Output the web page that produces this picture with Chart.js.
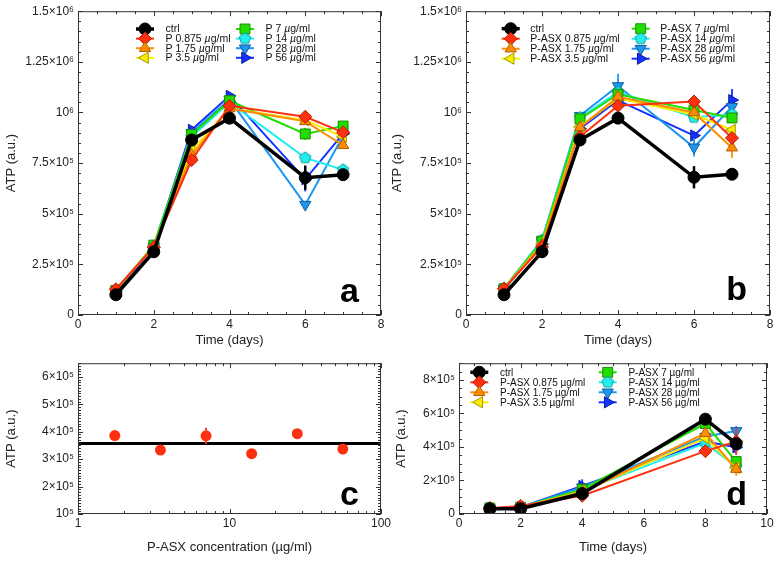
<!DOCTYPE html>
<html>
<head>
<meta charset="utf-8">
<script src="https://cdn.jsdelivr.net/npm/chart.js@4.4.1/dist/chart.umd.min.js"></script>
<style>
  html, body { margin: 0; padding: 0; background: #fff; }
  #wrap { position: relative; width: 779px; height: 562px; overflow: hidden; }
  canvas { position: absolute; }
</style>
</head>
<body>
<div id="wrap">
  <canvas id="chartA" width="390" height="352" style="left:0;top:0"></canvas>
  <canvas id="chartB" width="389" height="352" style="left:390px;top:0"></canvas>
  <canvas id="chartC" width="400" height="210" style="left:0;top:352px"></canvas>
  <canvas id="chartD" width="389" height="210" style="left:390px;top:352px"></canvas>
</div>
<script>
const FONT = "'Liberation Sans', Arial, Helvetica, sans-serif";
Chart.defaults.font.family = FONT;
Chart.defaults.color = '#222';

// ---- data ----
const daysAB = [1, 2, 3, 4, 6, 7];
const daysD = [1, 2, 4, 8, 9];

const aLabels = ['ctrl', 'P 0.875 µg/ml', 'P 1.75 µg/ml', 'P 3.5 µg/ml', 'P 7 µg/ml', 'P 14 µg/ml', 'P 28 µg/ml', 'P 56 µg/ml'];
const bLabels = ['ctrl', 'P-ASX 0.875 µg/ml', 'P-ASX 1.75 µg/ml', 'P-ASX 3.5 µg/ml', 'P-ASX 7 µg/ml', 'P-ASX 14 µg/ml', 'P-ASX 28 µg/ml', 'P-ASX 56 µg/ml'];

// panel a (P)
const aCtrl  = [1.0e5, 3.12e5, 8.64e5, 9.72e5, 6.78e5, 6.93e5];
const aP0875 = [1.27e5, 3.35e5, 7.65e5, 1.033e6, 9.79e5, 9.02e5];
const aP175  = [1.25e5, 3.38e5, 7.9e5, 1.02e6, 9.56e5, 8.38e5];
const aP35   = [1.25e5, 3.38e5, 8.12e5, 1.02e6, 9.62e5, 8.8e5];
const aP7    = [1.22e5, 3.45e5, 8.9e5, 1.058e6, 8.94e5, 9.33e5];
const aP14   = [1.22e5, 3.42e5, 8.8e5, 1.05e6, 7.76e5, 7.17e5];
const aP28   = [1.2e5, 3.4e5, 9.0e5, 1.065e6, 5.45e5, 8.85e5];
const aP56   = [1.15e5, 3.35e5, 9.14e5, 1.082e6, 6.7e5, 8.95e5];
const aCtrlErr = [0, 0, 0, 0, 6e4, 0];
const aP7Err   = [0, 0, 0, 0, 3e4, 0];
const aP56Err  = [0, 0, 0, 0, 6e4, 0];

// panel b (P-ASX)
const bCtrl  = [1.0e5, 3.12e5, 8.64e5, 9.72e5, 6.8e5, 6.95e5];
const bP0875 = [1.3e5, 3.37e5, 8.8e5, 1.033e6, 1.054e6, 8.74e5];
const bP175  = [1.3e5, 3.45e5, 9.26e5, 1.077e6, 1.0e6, 8.26e5];
const bP35   = [1.3e5, 3.5e5, 9.3e5, 1.07e6, 9.9e5, 9.14e5];
const bP7    = [1.3e5, 3.65e5, 9.68e5, 1.09e6, 1.012e6, 9.73e5];
const bP14   = [1.32e5, 3.7e5, 9.75e5, 1.1e6, 9.76e5, 9.9e5];
const bP28   = [1.3e5, 3.7e5, 9.84e5, 1.131e6, 8.28e5, 1.028e6];
const bP56   = [1.25e5, 3.5e5, 9.2e5, 1.06e6, 8.86e5, 1.061e6];
const bCtrlErr = [0, 0, 0, 2.5e4, 5.5e4, 0];
const bP175Err = [0, 0, 0, 0, 0, 5e4];
const bP28Err  = [0, 0, 0, 6e4, 4.5e4, 0];
const bP56Err  = [0, 0, 0, 0, 2e4, 5.5e4];

// panel c (dose response)
const cConc = [1.75, 3.5, 7, 14, 28, 56];
const cAtp  = [3.86e5, 3.33e5, 3.85e5, 3.2e5, 3.93e5, 3.37e5];
const cErr  = [0, 0, 3e4, 0, 0, 0];
const cCtrlLevel = 3.57e5;
const cLineX = [1, 100];

// panel d (P-ASX, second run)
const dCtrl  = [3.1e4, 3.1e4, 1.22e5, 5.66e5, 4.2e5];
const dP0875 = [3.5e4, 4.8e4, 1.09e5, 3.75e5, 4.33e5];
const dP175  = [3.5e4, 4.2e4, 1.3e5, 4.82e5, 2.68e5];
const dP35   = [3.5e4, 4.0e4, 1.35e5, 4.53e5, 2.75e5];
const dP7    = [3.5e4, 4.0e4, 1.47e5, 5.4e5, 3.13e5];
const dP14   = [3.5e4, 4.0e4, 1.4e5, 4.23e5, 2.82e5];
const dP28   = [3.5e4, 4.0e4, 1.6e5, 4.62e5, 4.96e5];
const dP56   = [3.5e4, 4.0e4, 1.67e5, 4.33e5, 3.98e5];
const dP0875Err = [0, 0, 0, 0, 8e4];
const dP175Err  = [0, 0, 0, 0, 4e4];
const dP28Err   = [0, 0, 0, 0, 3e4];
const dP56Err   = [0, 0, 4e4, 0, 4e4];

// ticks
const abXTicks = [0, 2, 4, 6, 8];
const abXLabels = ['0', '2', '4', '6', '8'];
const abYTicks = [0, 2.5e5, 5e5, 7.5e5, 1e6, 1.25e6, 1.5e6];
const abYLabels = ['0', '2.5×10⁵', '5×10⁵', '7.5×10⁵', '10⁶', '1.25×10⁶', '1.5×10⁶'];
const cXTicks = [1, 10, 100];
const cXLabels = ['1', '10', '100'];
const cYTicks = [1e5, 2e5, 3e5, 4e5, 5e5, 6e5];
const cYLabels = ['10⁵', '2×10⁵', '3×10⁵', '4×10⁵', '5×10⁵', '6×10⁵'];
const dXTicks = [0, 2, 4, 6, 8, 10];
const dXLabels = ['0', '2', '4', '6', '8', '10'];
const dYTicks = [0, 2e5, 4e5, 6e5, 8e5];
const dYLabels = ['0', '2×10⁵', '4×10⁵', '6×10⁵', '8×10⁵'];

// ---- marker looks ----
const looks = [
  { color: '#000000', edge: '#000000', shape: 'circle',   rot: 0,   r: 6,   w: 3.5 },
  { color: '#ff3010', edge: '#b02000', shape: 'rectRot',  rot: 0,   r: 6.5, w: 2 },
  { color: '#ff8c00', edge: '#b06000', shape: 'triangle', rot: 0,   r: 6.5, w: 2 },
  { color: '#f8ec00', edge: '#a09800', shape: 'triangle', rot: -90, r: 6.5, w: 2 },
  { color: '#22dd00', edge: '#168f00', shape: 'rect',     rot: 0,   r: 7,   w: 2 },
  { color: '#22eeee', edge: '#139a9a', shape: 'pentagon', rot: 0,   r: 6,   w: 2 },
  { color: '#1e96f0', edge: '#115f9c', shape: 'triangle', rot: 180, r: 6.5, w: 2 },
  { color: '#1432ff', edge: '#0b1c99', shape: 'triangle', rot: 90,  r: 6.5, w: 2 }
];

function pentagon(fill, edge, r) {
  const c = document.createElement('canvas');
  const s = Math.ceil(r * 2 + 2);
  c.width = s; c.height = s;
  const g = c.getContext('2d');
  g.beginPath();
  for (let k = 0; k < 5; k++) {
    const t = -Math.PI / 2 + k * 2 * Math.PI / 5;
    g.lineTo(s / 2 + r * Math.cos(t), s / 2 + r * Math.sin(t));
  }
  g.closePath();
  g.fillStyle = fill; g.fill();
  g.strokeStyle = edge; g.lineWidth = 1; g.stroke();
  return c;
}

function lineSets(days, rows, errs, labels) {
  return rows.map((vals, i) => {
    const lk = looks[i];
    return {
      label: labels[i],
      data: vals.map((v, j) => ({ x: days[j], y: v })),
      errors: errs[i],
      borderColor: lk.color,
      borderWidth: lk.w,
      pointStyle: lk.shape === 'pentagon' ? pentagon(lk.color, lk.edge, lk.r) : lk.shape,
      pointRotation: lk.rot,
      pointRadius: lk.r,
      pointBackgroundColor: lk.color,
      pointBorderColor: lk.edge,
      pointBorderWidth: 1,
      tension: 0
    };
  });
}

// ---- plugins ----
const errorBars = {
  id: 'errorBars',
  beforeDatasetDraw(chart, args) {
    const ds = chart.data.datasets[args.index];
    if (!ds.errors) return;
    const ctx = chart.ctx, ys = chart.scales.y;
    ctx.save();
    ctx.strokeStyle = ds.borderColor;
    ctx.lineWidth = ds.borderWidth > 2.5 ? 2.5 : 1.8;
    args.meta.data.forEach((pt, i) => {
      const e = ds.errors[i];
      if (!e) return;
      const v = ds.data[i].y;
      ctx.beginPath();
      ctx.moveTo(pt.x, ys.getPixelForValue(v - e));
      ctx.lineTo(pt.x, ys.getPixelForValue(v + e));
      ctx.stroke();
    });
    ctx.restore();
  }
};

function tickMarks(scale, major, minor) {
  const out = [];
  if (scale.type === 'logarithmic') {
    for (let d = scale.min; d < scale.max * 0.999; d *= 10)
      for (let k = 1; k < 10; k++) out.push([d * k, k === 1]);
    out.push([scale.max, true]);
  } else {
    const n = Math.round((scale.max - scale.min) / minor);
    for (let i = 0; i <= n; i++) {
      const v = scale.min + i * minor;
      out.push([v, Math.abs(v / major - Math.round(v / major)) < 1e-6]);
    }
  }
  return out;
}

const frameTicks = {
  id: 'frameTicks',
  afterDatasetsDraw(chart, args, o) {
    if (!o.xMajor) return;
    const { ctx, chartArea: a } = chart;
    const xs = chart.scales.x, ys = chart.scales.y;
    ctx.save();
    ctx.strokeStyle = '#333';
    ctx.lineWidth = 1;
    ctx.strokeRect(a.left + 0.5, a.top + 0.5, a.right - a.left - 1, a.bottom - a.top - 1);
    ctx.beginPath();
    tickMarks(xs, o.xMajor, o.xMinor).forEach(([v, big]) => {
      const px = Math.round(xs.getPixelForValue(v)) + 0.5, len = big ? 5 : 3;
      ctx.moveTo(px, a.bottom); ctx.lineTo(px, a.bottom - len);
      ctx.moveTo(px, a.top); ctx.lineTo(px, a.top + len);
    });
    tickMarks(ys, o.yMajor, o.yMinor).forEach(([v, big]) => {
      const py = Math.round(ys.getPixelForValue(v)) + 0.5, len = big ? 5 : 3;
      ctx.moveTo(a.left, py); ctx.lineTo(a.left + len, py);
      ctx.moveTo(a.right, py); ctx.lineTo(a.right - len, py);
    });
    ctx.stroke();
    ctx.restore();
  }
};

function drawLabel(ctx, text, x, y, font, italicMu) {
  ctx.font = font;
  if (!italicMu || text.indexOf('µ') < 0) { ctx.fillText(text, x, y); return; }
  const parts = text.split('µ');
  ctx.fillText(parts[0], x, y);
  x += ctx.measureText(parts[0]).width;
  ctx.font = 'italic ' + font;
  ctx.fillText('µ', x, y);
  x += ctx.measureText('µ').width;
  ctx.font = font;
  ctx.fillText(parts[1], x, y);
}

const boxLegend = {
  id: 'boxLegend',
  afterDatasetsDraw(chart, args, o) {
    if (!o.cols) return;
    const ctx = chart.ctx;
    ctx.save();
    chart.data.datasets.forEach((ds, i) => {
      const cx = o.cols[Math.floor(i / 4)], cy = o.top + (i % 4) * o.rowH;
      ctx.strokeStyle = ds.borderColor;
      ctx.lineWidth = ds.borderWidth;
      ctx.beginPath();
      ctx.moveTo(cx - o.half, cy); ctx.lineTo(cx + o.half, cy);
      ctx.stroke();
      ctx.fillStyle = ds.pointBackgroundColor;
      ctx.strokeStyle = ds.pointBorderColor;
      ctx.lineWidth = ds.pointBorderWidth;
      Chart.helpers.drawPoint(ctx, { pointStyle: ds.pointStyle, rotation: ds.pointRotation, radius: ds.pointRadius, borderWidth: ds.pointBorderWidth }, cx, cy);
      ctx.fillStyle = '#111';
      ctx.textAlign = 'left';
      ctx.textBaseline = 'middle';
      drawLabel(ctx, ds.label, cx + o.gap, cy + 0.5, o.size + 'px ' + FONT, o.italicMu);
    });
    ctx.restore();
  }
};

const panelLetter = {
  id: 'panelLetter',
  afterDraw(chart, args, o) {
    if (!o.text) return;
    const { ctx, chartArea: a } = chart;
    ctx.save();
    ctx.font = 'bold ' + o.size + 'px ' + FONT;
    ctx.fillStyle = '#000';
    ctx.textAlign = 'right';
    ctx.textBaseline = 'alphabetic';
    ctx.fillText(o.text, a.right - o.dx, a.bottom - o.dy);
    ctx.restore();
  }
};

Chart.register(errorBars, frameTicks, boxLegend, panelLetter);

function panelOptions(p) {
  return {
    responsive: false,
    devicePixelRatio: 1,
    animation: false,
    layout: { padding: p.pad },
    plugins: {
      legend: { display: false },
      tooltip: { enabled: false },
      frameTicks: p.frame,
      boxLegend: p.legend || {},
      panelLetter: p.letter
    },
    scales: {
      x: {
        type: p.xType || 'linear',
        min: p.xMin, max: p.xMax,
        grid: { display: false, drawTicks: false },
        border: { display: false },
        afterBuildTicks: s => { s.ticks = p.xTicks.map(v => ({ value: v })); },
        afterFit: s => { s.height = p.xH; s.paddingLeft = 0; s.paddingRight = 0; },
        ticks: { padding: 2, font: { size: 12 }, color: '#222', autoSkip: false, maxRotation: 0,
                 callback: (v, i) => p.xLabels[i] },
        title: { display: true, text: p.xTitle, font: { size: 13 }, color: '#222',
                 padding: { top: 0, bottom: p.xTitlePad } }
      },
      y: {
        min: p.yMin, max: p.yMax,
        grid: { display: false, drawTicks: false },
        border: { display: false },
        afterBuildTicks: s => { s.ticks = p.yTicks.map(v => ({ value: v })); },
        afterFit: s => { s.width = p.yW; },
        ticks: { padding: 4, font: { size: 12 }, color: '#222', autoSkip: false,
                 callback: (v, i) => p.yLabels[i] },
        title: { display: true, text: 'ATP (a.u.)', font: { size: 13 }, color: '#222',
                 padding: { top: p.yTitlePad, bottom: 0 } }
      }
    }
  };
}

// panel a
new Chart(document.getElementById('chartA'), {
  type: 'line',
  data: { datasets: lineSets(daysAB,
    [aCtrl, aP0875, aP175, aP35, aP7, aP14, aP28, aP56],
    [aCtrlErr, null, null, null, aP7Err, null, null, aP56Err], aLabels) },
  options: panelOptions({
    pad: { top: 11, right: 9, left: 0, bottom: 0 },
    xMin: 0, xMax: 8, xTicks: abXTicks, xLabels: abXLabels, xH: 37, xTitle: 'Time (days)', xTitlePad: 4,
    yMin: 0, yMax: 1.5e6, yTicks: abYTicks, yLabels: abYLabels, yW: 78, yTitlePad: 4,
    frame: { xMajor: 2, xMinor: 0.5, yMajor: 2.5e5, yMinor: 5e4 },
    legend: { cols: [145, 245], top: 29, rowH: 9.6, half: 9, gap: 20.5, size: 10.5, italicMu: true },
    letter: { text: 'a', size: 34, dx: 22, dy: 13 }
  })
});

// panel b
new Chart(document.getElementById('chartB'), {
  type: 'line',
  data: { datasets: lineSets(daysAB,
    [bCtrl, bP0875, bP175, bP35, bP7, bP14, bP28, bP56],
    [bCtrlErr, null, bP175Err, null, null, null, bP28Err, bP56Err], bLabels) },
  options: panelOptions({
    pad: { top: 11, right: 9, left: 0, bottom: 0 },
    xMin: 0, xMax: 8, xTicks: abXTicks, xLabels: abXLabels, xH: 37, xTitle: 'Time (days)', xTitlePad: 4,
    yMin: 0, yMax: 1.5e6, yTicks: abYTicks, yLabels: abYLabels, yW: 76, yTitlePad: 0,
    frame: { xMajor: 2, xMinor: 0.5, yMajor: 2.5e5, yMinor: 5e4 },
    legend: { cols: [120.7, 250.7], top: 28.7, rowH: 10, half: 9, gap: 19.5, size: 10.5, italicMu: true },
    letter: { text: 'b', size: 34, dx: 23, dy: 15 }
  })
});

// panel c
new Chart(document.getElementById('chartC'), {
  type: 'line',
  data: { datasets: [
    { label: 'P-ASX', data: cConc.map((c, i) => ({ x: c, y: cAtp[i] })), errors: cErr,
      showLine: false, borderColor: '#ff3010', borderWidth: 2, pointStyle: 'circle', pointRadius: 5.5,
      pointBackgroundColor: '#ff3010', pointBorderColor: '#ff3010', pointBorderWidth: 0 },
    { label: 'ctrl', data: cLineX.map(x => ({ x: x, y: cCtrlLevel })),
      borderColor: '#000', borderWidth: 3, pointRadius: 0 }
  ] },
  options: panelOptions({
    pad: { top: 10, right: 19, left: 0, bottom: 0 },
    xType: 'logarithmic', xMin: 1, xMax: 100, xTicks: cXTicks, xLabels: cXLabels, xH: 48,
    xTitle: 'P-ASX concentration (µg/ml)', xTitlePad: 7,
    yMin: 1e5, yMax: 6.5e5, yTicks: cYTicks, yLabels: cYLabels, yW: 78, yTitlePad: 4,
    frame: { xMajor: 10, xMinor: 1, yMajor: 1e5, yMinor: 1e4 },
    letter: { text: 'c', size: 34, dx: 22, dy: 9 }
  })
});

// panel d
new Chart(document.getElementById('chartD'), {
  type: 'line',
  data: { datasets: lineSets(daysD,
    [dCtrl, dP0875, dP175, dP35, dP7, dP14, dP28, dP56],
    [null, dP0875Err, dP175Err, null, null, null, dP28Err, dP56Err], bLabels) },
  options: panelOptions({
    pad: { top: 10, right: 12, left: 0, bottom: 0 },
    xMin: 0, xMax: 10, xTicks: dXTicks, xLabels: dXLabels, xH: 48, xTitle: 'Time (days)', xTitlePad: 7,
    yMin: 0, yMax: 9e5, yTicks: dYTicks, yLabels: dYLabels, yW: 69, yTitlePad: 4,
    frame: { xMajor: 2, xMinor: 0.5, yMajor: 2e5, yMinor: 5e4 },
    legend: { cols: [89.3, 217.7], top: 20.3, rowH: 10, half: 9, gap: 20.7, size: 10, italicMu: false },
    letter: { text: 'd', size: 34, dx: 20, dy: 9 }
  })
});
</script>
</body>
</html>
